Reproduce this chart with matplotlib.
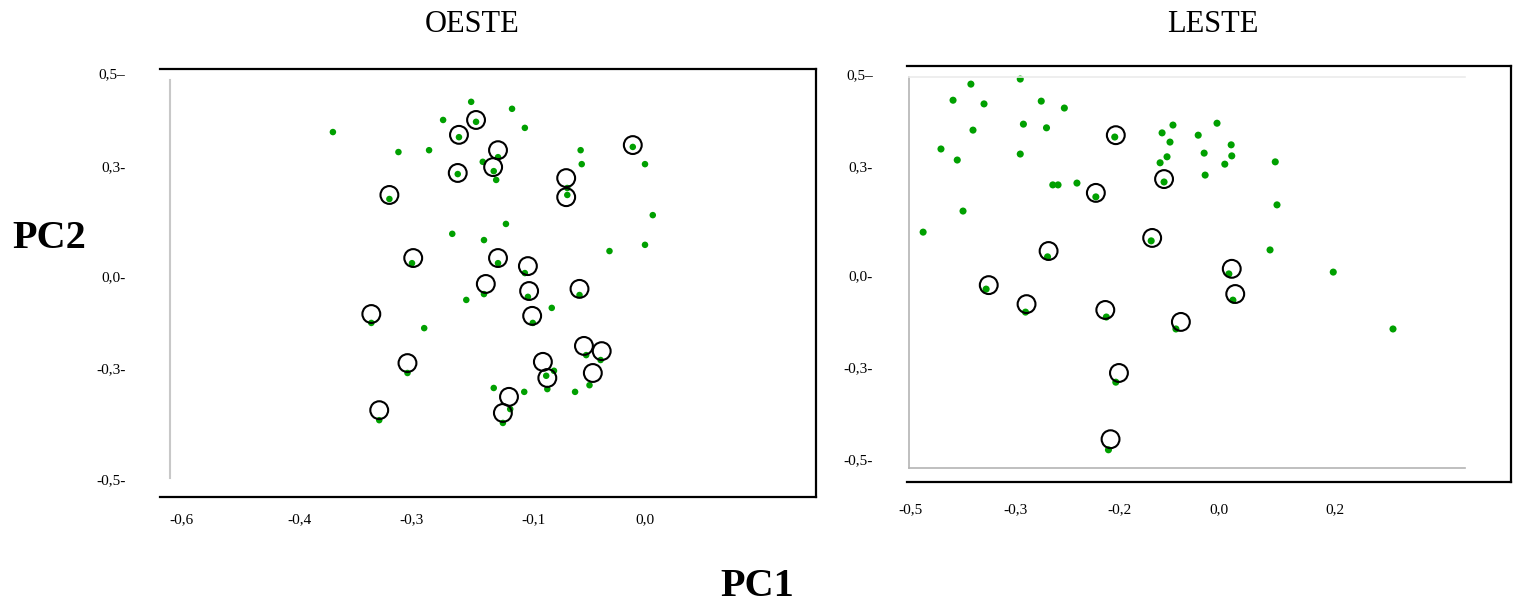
import numpy as np
import matplotlib.pyplot as plt
from matplotlib.lines import Line2D

plt.rcParams['font.family'] = ['Liberation Serif', 'DejaVu Serif']

# ---- dados (PC1, PC2) ----
oeste_x = [-0.370, -0.312, -0.272, -0.249, -0.203, -0.195, -0.223, -0.225, -0.320, -0.234,
           -0.182, -0.300, -0.182, -0.211, -0.184, -0.162, -0.136, -0.115, -0.159, -0.166,
           -0.058, -0.057, -0.070, -0.070, -0.011, 0.000, 0.007, 0.000, -0.032, -0.146,
           -0.159, -0.115, -0.110, -0.059, -0.084, -0.102, -0.053, -0.040, -0.089, -0.082,
           -0.088, -0.050, -0.166, -0.116, -0.063, -0.139, -0.151, -0.336, -0.280, -0.304,
           -0.329]
oeste_y = [0.373, 0.330, 0.334, 0.399, 0.438, 0.395, 0.362, 0.278, 0.210, 0.115,
           0.098, 0.035, -0.059, -0.078, 0.309, 0.262, 0.423, 0.382, 0.319, 0.286,
           0.334, 0.304, 0.240, 0.221, 0.341, 0.304, 0.166, 0.085, 0.068, 0.142,
           0.035, 0.008, -0.068, -0.062, -0.104, -0.153, -0.258, -0.274, -0.314, -0.305,
           -0.338, -0.331, -0.336, -0.343, -0.343, -0.374, -0.399, -0.153, -0.170, -0.309,
           -0.394]
oeste_circ_x = [-0.195, -0.223, -0.159, -0.167, -0.225, -0.071, -0.071, -0.011, -0.320, -0.298,
                -0.159, -0.110, -0.179, -0.108, -0.059, -0.336, -0.103, -0.055, -0.039, -0.092,
                -0.088, -0.047, -0.304, -0.141, -0.329, -0.151]
oeste_circ_y = [0.399, 0.367, 0.334, 0.297, 0.281, 0.267, 0.215, 0.345, 0.221, 0.049,
                0.049, 0.027, -0.026, -0.049, -0.042, -0.124, -0.130, -0.228, -0.245, -0.280,
                -0.318, -0.309, -0.284, -0.352, -0.376, -0.381]

leste_x = [-0.475, -0.441, -0.418, -0.410, -0.399, -0.384, -0.380, -0.359, -0.295, -0.295,
           -0.292, -0.275, -0.270, -0.253, -0.264, -0.259, -0.241, -0.223, -0.205, -0.137,
           -0.269, -0.355, -0.115, -0.093, -0.099, -0.105, -0.119, -0.111, -0.042, -0.030,
           -0.028, -0.004, 0.021, 0.022, 0.010, 0.097, 0.100, 0.088, 0.017, 0.024,
           0.197, 0.300, -0.290, -0.213, -0.087, -0.204, -0.211]
leste_y = [0.118, 0.337, 0.443, 0.313, 0.176, 0.478, 0.378, 0.435, 0.489, 0.326,
           0.391, 0.441, 0.383, 0.426, 0.248, 0.248, 0.253, 0.215, 0.363, 0.094,
           0.050, -0.046, 0.372, 0.389, 0.352, 0.320, 0.307, 0.256, 0.367, 0.328,
           0.275, 0.393, 0.346, 0.322, 0.304, 0.309, 0.193, 0.069, 0.003, -0.082,
           0.008, -0.176, -0.121, -0.137, -0.176, -0.333, -0.480]
leste_circ_x = [-0.223, -0.204, -0.135, -0.268, -0.350, -0.111, 0.022, 0.028, -0.289, -0.214,
                -0.077, -0.201, -0.209]
leste_circ_y = [0.226, 0.367, 0.102, 0.066, -0.033, 0.264, 0.017, -0.062, -0.095, -0.114,
                -0.153, -0.313, -0.457]

y_ticks = [-0.5, -0.3, 0.0, 0.3, 0.5]
y_labels = ['-0,5-', '-0,3-', '0,0-', '0,3-', '0,5–']
oeste_xticks = [-0.6, -0.4, -0.3, -0.1, 0.0]
oeste_xlabels = ['-0,6', '-0,4', '-0,3', '-0,1', '0,0']
leste_xticks = [-0.5, -0.3, -0.2, 0.0, 0.2]
leste_xlabels = ['-0,5', '-0,3', '-0,2', '0,0', '0,2']

W, H = 1513, 606
GREEN = '#00a000'


def piecewise(a, b):
    # interpolacao linear por partes, com extrapolacao nas pontas
    a = np.asarray(a, float)
    b = np.asarray(b, float)
    s0 = (b[1] - b[0]) / (a[1] - a[0])
    s1 = (b[-1] - b[-2]) / (a[-1] - a[-2])

    def f(v):
        v = np.asarray(v, float)
        out = np.interp(v, a, b)
        out = np.where(v < a[0], b[0] + (v - a[0]) * s0, out)
        out = np.where(v > a[-1], b[-1] + (v - a[-1]) * s1, out)
        return out
    return f


def panel(fig, box, xticks, xlabels, xpix, ypix, xpad, ypad):
    x0, y0, x1, y1 = box
    ax = fig.add_axes([x0 / W, 1 - y1 / H, (x1 - x0) / W, (y1 - y0) / H])
    fx, ix = piecewise(xticks, xpix), piecewise(xpix, xticks)
    neg = [-p for p in ypix]
    fy, iy = piecewise(y_ticks, neg), piecewise(neg, y_ticks)
    ax.set_xscale('function', functions=(fx, ix))
    ax.set_yscale('function', functions=(fy, iy))
    ax.set_xlim(float(ix(x0)), float(ix(x1)))
    ax.set_ylim(float(iy(-y1)), float(iy(-y0)))
    ax.set_xticks(xticks, xlabels)
    ax.set_yticks(y_ticks, y_labels)
    ax.minorticks_off()
    ax.tick_params(length=0, labelsize=11)
    ax.tick_params(axis='x', pad=xpad)
    ax.tick_params(axis='y', pad=ypad)
    ax.spines['left'].set_visible(False)
    for s in ['top', 'right', 'bottom']:
        ax.spines[s].set_linewidth(1.6)
        ax.spines[s].set_color('black')
    return ax


fig = plt.figure(figsize=(W / 100, H / 100), dpi=100)

# OESTE
ax1 = panel(fig, (160, 69, 816, 497), oeste_xticks, oeste_xlabels,
            [181, 299, 412, 534, 645], [479, 368, 276, 166, 73], 11.5, 25)
ax1.scatter(oeste_x, oeste_y, s=22, color=GREEN, edgecolors='none', zorder=2)
ax1.scatter(oeste_circ_x, oeste_circ_y, s=165, facecolors='none',
            edgecolors='black', linewidths=1.5, zorder=3)
fig.add_artist(Line2D([170 / W, 170 / W], [1 - 80 / H, 1 - 478 / H],
                      color='#c8c8c8', lw=1.5))

# LESTE
ax2 = panel(fig, (907, 66, 1511, 482), leste_xticks, leste_xlabels,
            [910, 1015, 1120, 1219, 1335], [459, 367, 275, 166, 74], 15, 24.5)
ax2.scatter(leste_x, leste_y, s=26, color=GREEN, edgecolors='none', zorder=2)
ax2.scatter(leste_circ_x, leste_circ_y, s=165, facecolors='none',
            edgecolors='black', linewidths=1.5, zorder=3)
fig.add_artist(Line2D([909 / W, 909 / W], [1 - 77 / H, 1 - 468 / H],
                      color='#b4b4b4', lw=1.2))
fig.add_artist(Line2D([909 / W, 1465 / W], [1 - 77 / H, 1 - 77 / H],
                      color='#ebebeb', lw=1.2))
fig.add_artist(Line2D([909 / W, 1465 / W], [1 - 468 / H, 1 - 468 / H],
                      color='#b4b4b4', lw=1.2))

fig.text(472 / W, 1 - 24 / H, 'OESTE', ha='center', va='center', fontsize=22)
fig.text(1213 / W, 1 - 24 / H, 'LESTE', ha='center', va='center', fontsize=22)
fig.text(12 / W, 1 - 248 / H, 'PC2', ha='left', va='baseline',
         fontsize=29, fontweight='bold')
fig.text(757 / W, 1 / H, 'PC1', ha='center', va='bottom',
         fontsize=29, fontweight='bold')

fig.savefig('out.png', dpi=100)
